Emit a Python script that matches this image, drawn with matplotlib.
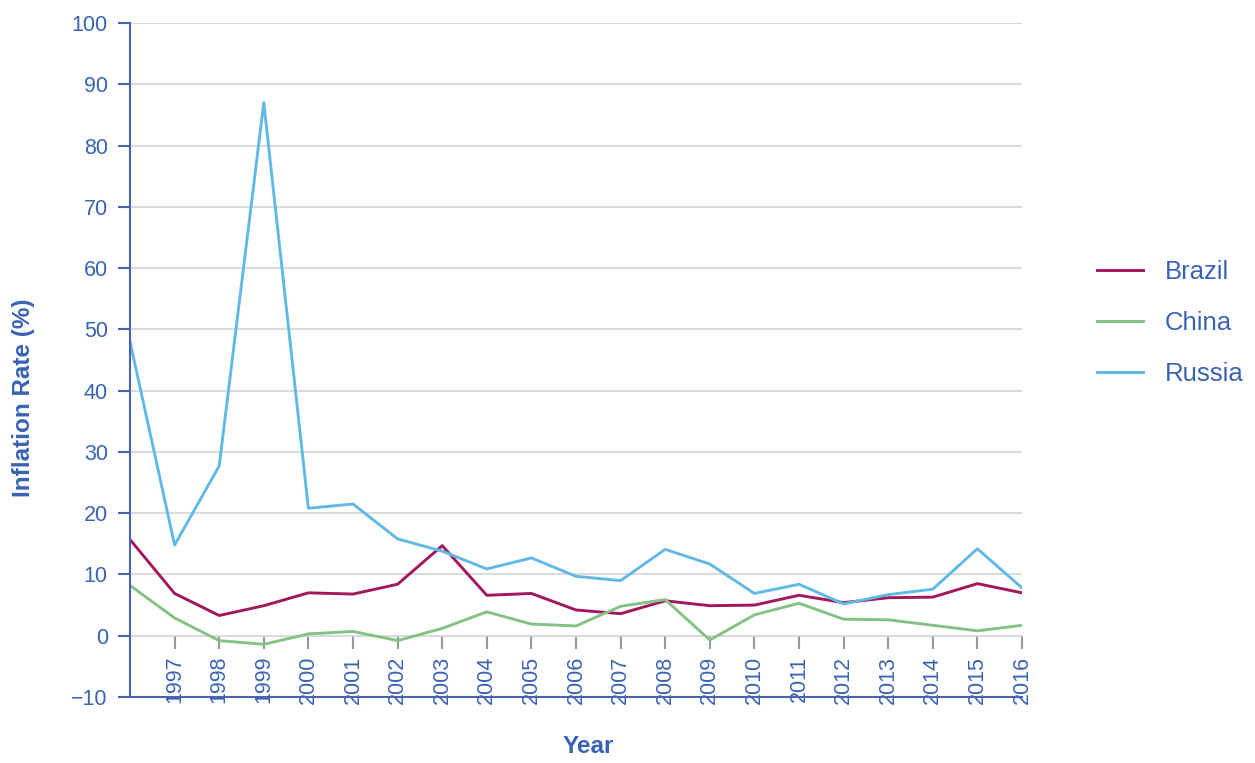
import numpy as np
import matplotlib
matplotlib.use("Agg")
import matplotlib.pyplot as plt

plt.rcParams['font.family'] = ['Liberation Sans', 'DejaVu Sans']

years = list(range(1996, 2017))
brazil = [15.7, 6.9, 3.3, 4.9, 7.0, 6.8, 8.4, 14.7, 6.6, 6.9, 4.2,
          3.6, 5.7, 4.9, 5.0, 6.6, 5.4, 6.2, 6.3, 8.5, 7.0]
china = [8.2, 2.9, -0.8, -1.4, 0.3, 0.7, -0.8, 1.2, 3.9, 1.9, 1.6,
         4.8, 5.9, -0.7, 3.4, 5.3, 2.7, 2.6, 1.7, 0.8, 1.7]
russia = [48.0, 14.8, 27.7, 87.0, 20.8, 21.5, 15.8, 13.8, 10.9, 12.7, 9.7,
          9.0, 14.1, 11.7, 6.9, 8.4, 5.2, 6.7, 7.6, 14.2, 7.8]
yticks = list(range(-10, 101, 10))

text_blue = '#3a63b5'
axis_blue = '#4b62ad'

fig = plt.figure(figsize=(12.55, 7.63), dpi=100)
ax = fig.add_axes([130/1255, 1-697/763, 892/1255, 674/763])

ax.plot(years, brazil, color='#a3185c', lw=2.1, label='Brazil')
ax.plot(years, china, color='#85c285', lw=2.1, label='China')
ax.plot(years, russia, color='#62b9e6', lw=2.1, label='Russia')

ax.set_xlim(1996, 2016)
ax.set_ylim(-10, 100)
ax.set_yticks(yticks)
ax.grid(axis='y', color='#d4d4d4', lw=1.2)
ax.set_axisbelow(True)

for s in ['top', 'right']:
    ax.spines[s].set_visible(False)
for s in ['left', 'bottom']:
    ax.spines[s].set_color(axis_blue)
    ax.spines[s].set_linewidth(1.5)

ax.tick_params(axis='y', direction='out', length=9, width=1.5, color=axis_blue,
               pad=7, labelsize=15.5, labelcolor=text_blue)
ax.tick_params(axis='x', length=0, labelbottom=False)

# year ticks hang from the zero line
sec = ax.secondary_xaxis(10/110)
sec.spines['bottom'].set_visible(False)
sec.set_xticks(years[1:])
sec.set_xticklabels([str(y) for y in years[1:]])
sec.tick_params(axis='x', direction='out', length=9, width=1.5, color='#999999',
                pad=5.5, labelsize=15.5, labelcolor=text_blue, labelrotation=90)

ax.set_xlabel('Year', fontsize=17.5, fontweight='bold', color=text_blue)
ax.xaxis.set_label_coords((588-130)/892, -0.057)
ax.set_ylabel('Inflation Rate (%)', fontsize=17.5, fontweight='bold', color=text_blue)
ax.yaxis.set_label_coords(-0.107, 0.444)

leg = fig.legend(loc='center left', bbox_to_anchor=(1097/1255, 1-323/763),
                 frameon=False, fontsize=18.5, borderpad=0, borderaxespad=0,
                 handlelength=1.8, handletextpad=0.85, labelspacing=1.05)
for t in leg.get_texts():
    t.set_color(text_blue)

fig.savefig('out.png', dpi=100)
